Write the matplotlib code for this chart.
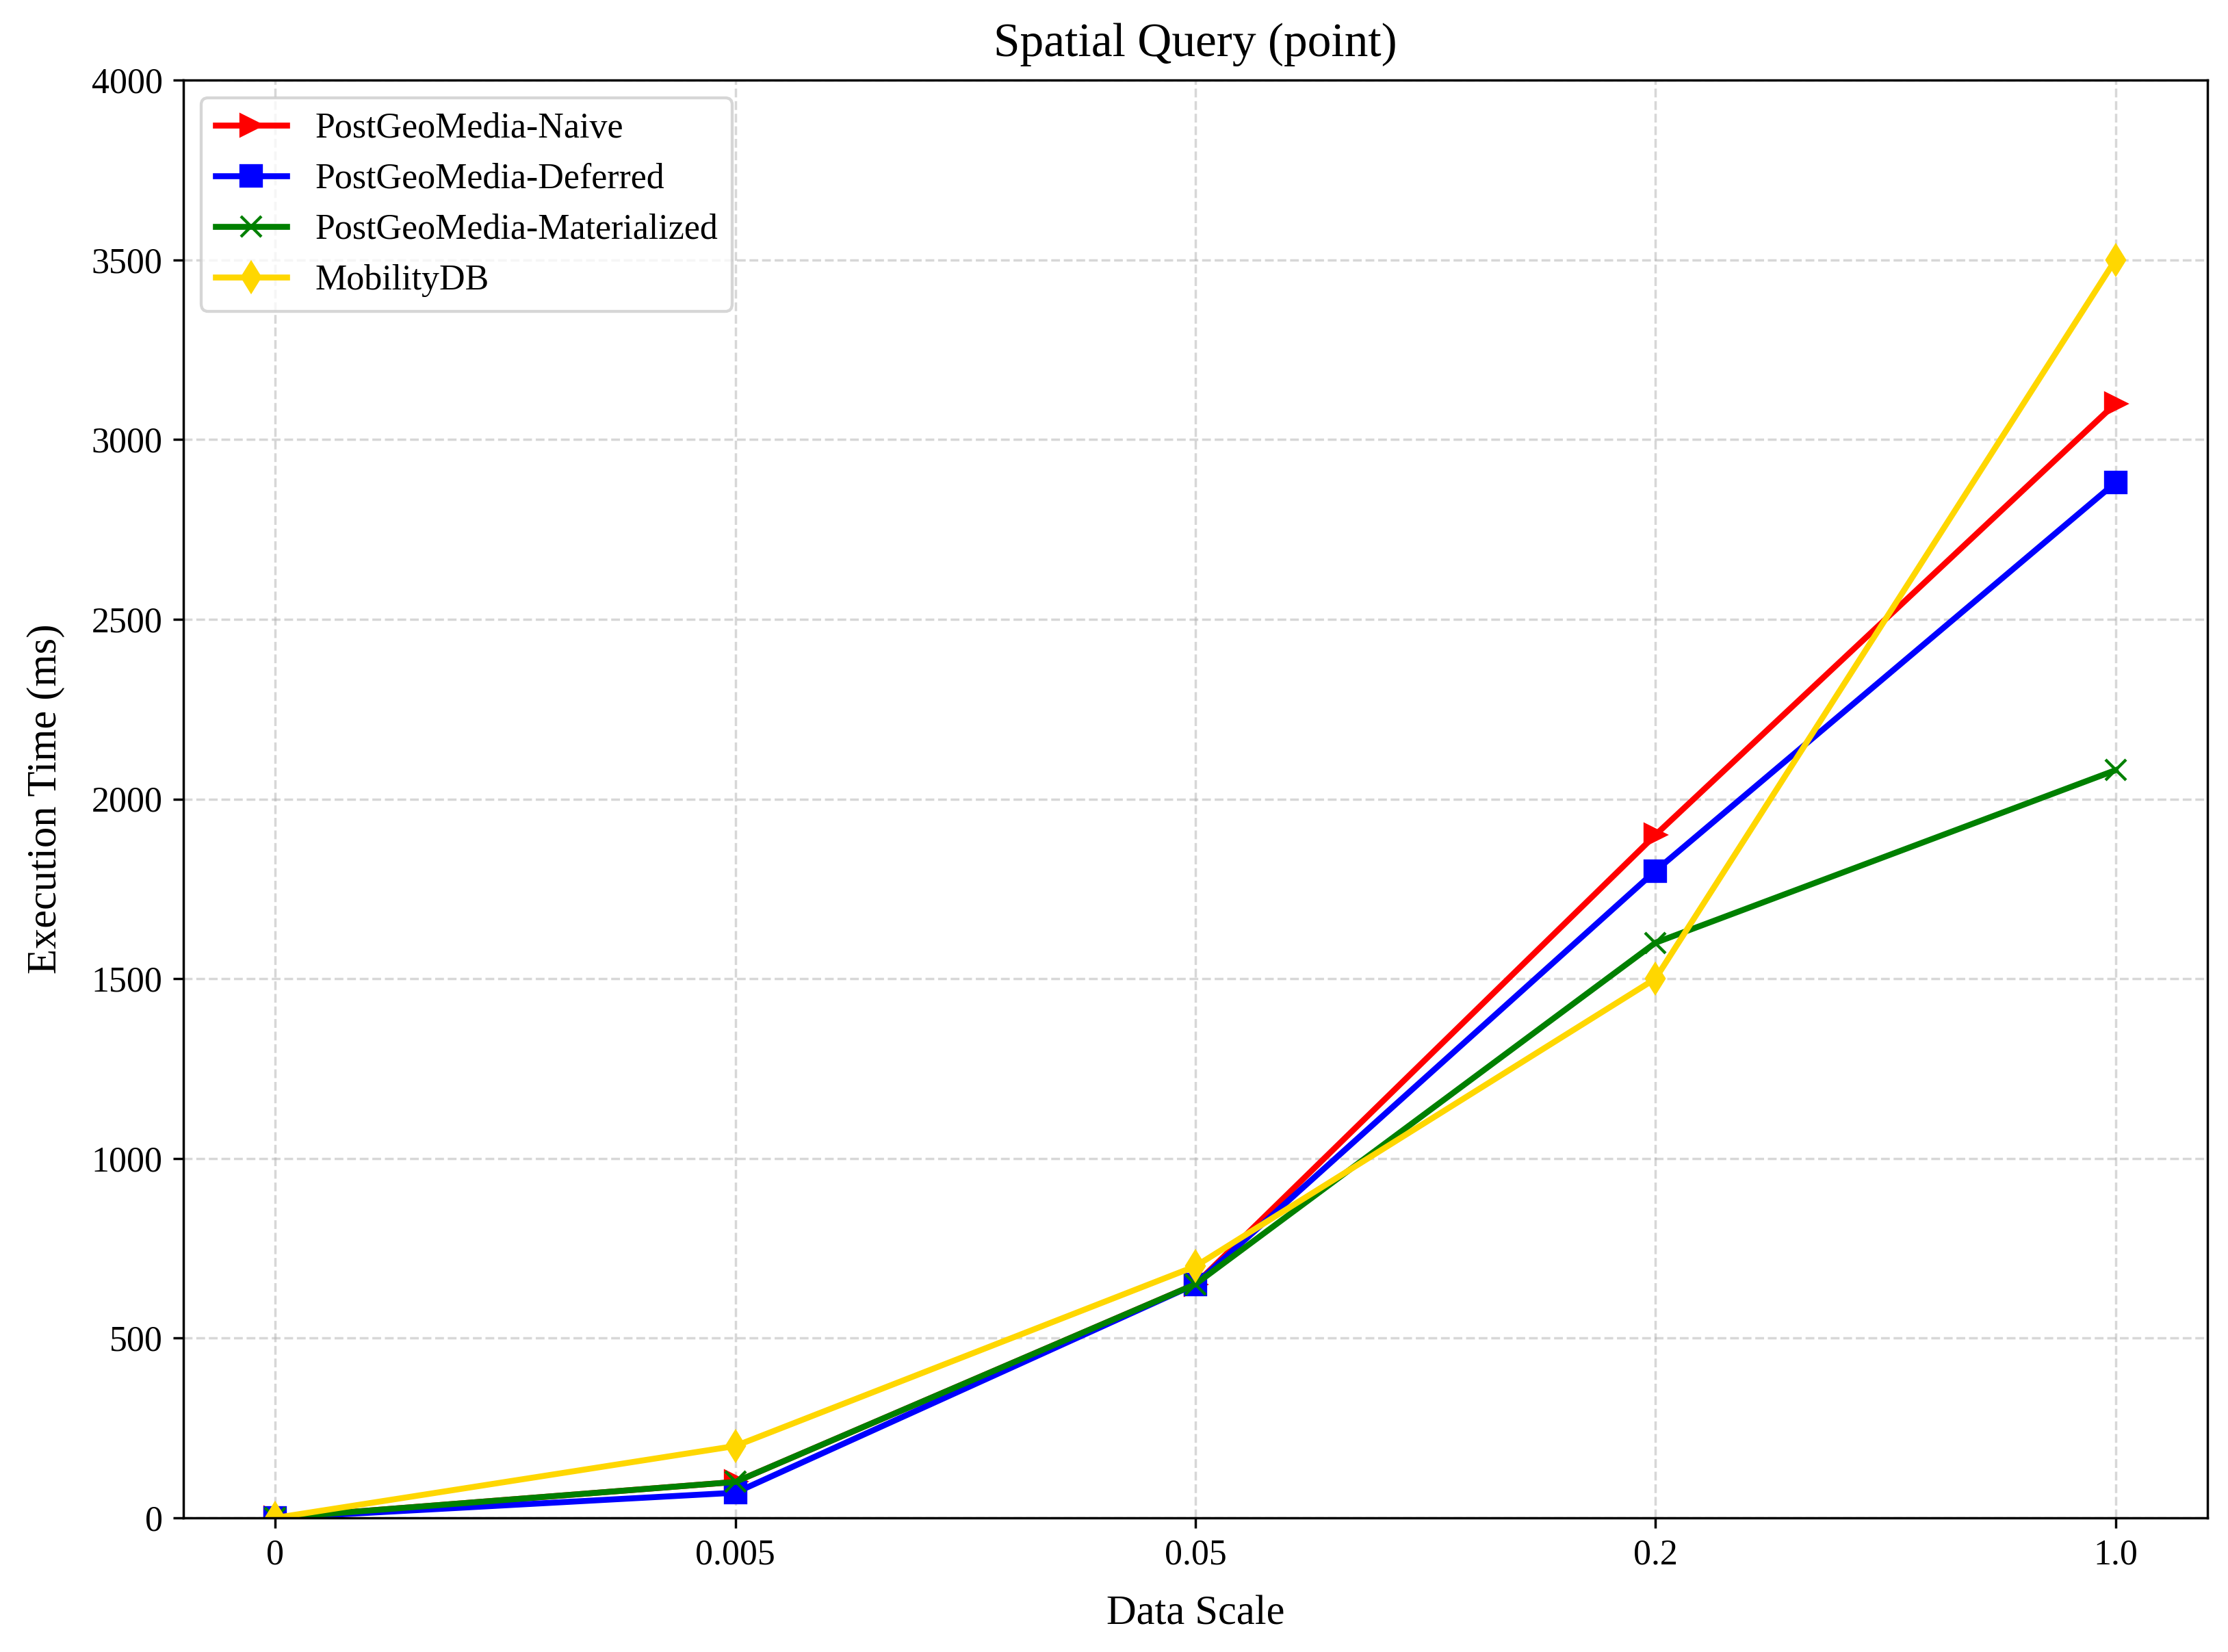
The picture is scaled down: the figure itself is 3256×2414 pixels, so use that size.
import matplotlib
matplotlib.use("Agg")
import matplotlib.pyplot as plt

plt.rcParams.update({"font.family": ["Liberation Serif", "DejaVu Serif"], "font.size": 12})

SCALES = ["0", "0.005", "0.05", "0.2", "1.0"]
NAIVE = [0, 100, 650, 1900, 3100]
DEFERRED = [0, 70, 650, 1800, 2880]
MATERIALIZED = [0, 100, 650, 1600, 2080]
MOBILITYDB = [0, 200, 700, 1500, 3500]

SERIES = [
    ("PostGeoMedia-Naive", NAIVE, "red", ">"),
    ("PostGeoMedia-Deferred", DEFERRED, "blue", "s"),
    ("PostGeoMedia-Materialized", MATERIALIZED, "green", "x"),
    ("MobilityDB", MOBILITYDB, "gold", "d"),
]

DPI = 312
fig = plt.figure(figsize=(3256 / DPI, 2414 / DPI), dpi=DPI)
ax = fig.add_axes([268 / 3256, 1 - 2218 / 2414, (3226 - 268) / 3256, (2218 - 117) / 2414])
x = list(range(len(SCALES)))
for name, vals, col, mk in SERIES:
    ax.plot(x, vals, marker=mk, color=col, lw=2, ms=7, label=name)

ax.set_xticks(x)
ax.set_xticklabels(SCALES)
ax.set_ylim(0, 4000)
ax.set_xlabel("Data Scale", fontsize=14, labelpad=8)
ax.set_ylabel("Execution Time (ms)", fontsize=14, labelpad=9)
ax.set_title("Spatial Query (point)", fontsize=16, pad=8)
ax.grid(True, ls="--", alpha=0.5)
ax.legend(loc="upper left")
fig.savefig("out.png", dpi=DPI)
